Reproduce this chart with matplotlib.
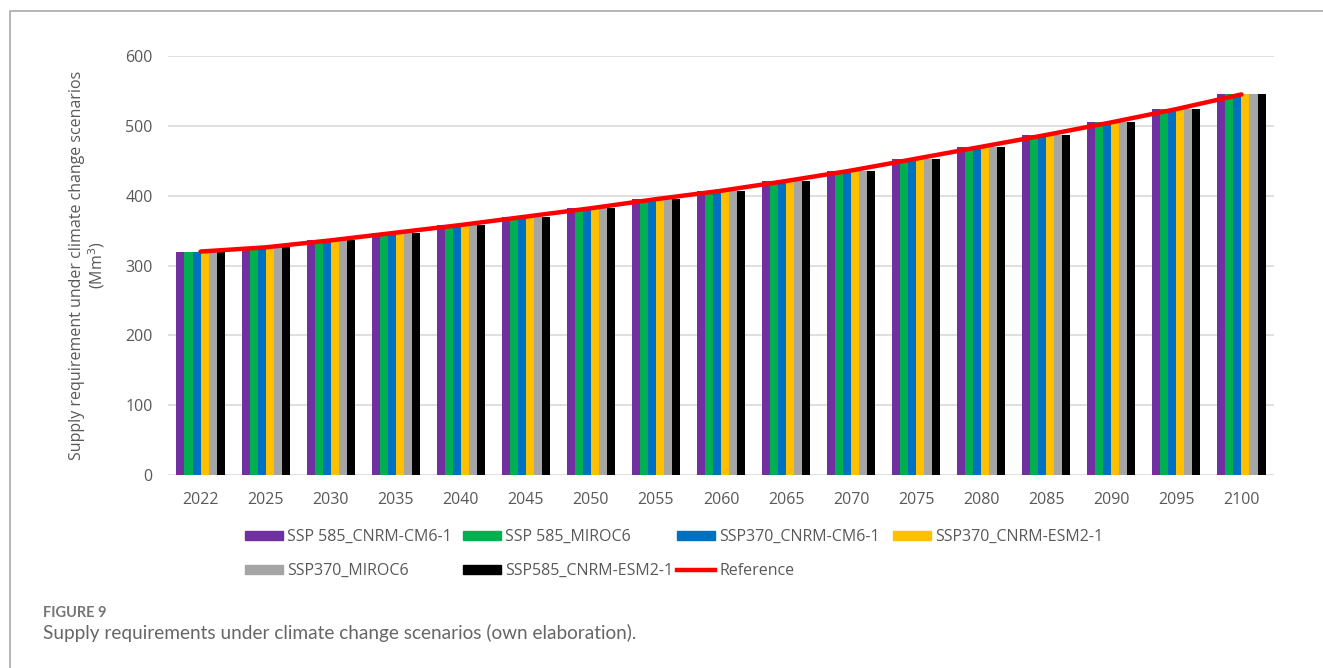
import numpy as np
import matplotlib.pyplot as plt
from matplotlib.lines import Line2D
from matplotlib.patches import Patch

# ------------------------------------------------------------------------------
years = ['2022', '2025', '2030', '2035', '2040', '2045', '2050', '2055', '2060',
         '2065', '2070', '2075', '2080', '2085', '2090', '2095', '2100']

ssp585_cnrm_cm6   = [320, 326, 336, 347, 358, 370, 382, 395, 407, 421, 436, 453, 470, 487, 505, 524, 545]
ssp585_miroc6     = [320, 326, 336, 347, 358, 370, 382, 395, 407, 421, 436, 453, 470, 487, 505, 524, 545]
ssp370_cnrm_cm6   = [320, 326, 336, 347, 358, 370, 382, 395, 407, 421, 436, 453, 470, 487, 505, 524, 545]
ssp370_cnrm_esm2  = [320, 326, 336, 347, 358, 370, 382, 395, 407, 421, 436, 453, 470, 487, 505, 524, 545]
ssp370_miroc6     = [320, 326, 336, 347, 358, 370, 382, 395, 407, 421, 436, 453, 470, 487, 505, 524, 545]
ssp585_cnrm_esm2  = [320, 326, 336, 347, 358, 370, 382, 395, 407, 421, 436, 453, 470, 487, 505, 524, 545]
reference         = [320, 326, 336, 347, 358, 370, 382, 395, 407, 421, 436, 453, 470, 487, 505, 524, 545]

series = [ssp585_cnrm_cm6, ssp585_miroc6, ssp370_cnrm_cm6,
          ssp370_cnrm_esm2, ssp370_miroc6, ssp585_cnrm_esm2]
names  = ['SSP 585_CNRM-CM6-1', 'SSP 585_MIROC6', 'SSP370_CNRM-CM6-1',
          'SSP370_CNRM-ESM2-1', 'SSP370_MIROC6', 'SSP585_CNRM-ESM2-1']
colors = ['#7030A0', '#00B050', '#0070C0', '#FFC000', '#A5A5A5', '#000000']
# ------------------------------------------------------------------------------
plt.rcParams['font.family'] = ['Open Sans', 'DejaVu Sans']
txt = '#595959'
W, H = 1323, 668

fig = plt.figure(figsize=(W / 100, H / 100), dpi=100)
ax = fig.add_axes([168 / W, 1 - 475 / H, 1106 / W, 419 / H])

x = np.arange(len(years))
w = 0.74 / 6
for i, (vals, c) in enumerate(zip(series, colors)):
    ax.bar(x + (i - 2.5) * w, vals, width=w, color=c, zorder=2)

ax.plot(x, reference, color='#FF0000', linewidth=3.2, solid_capstyle='round', zorder=3)

ax.set_xlim(-0.5, len(years) - 0.5)
ax.set_ylim(0, 600)
ax.set_yticks(range(0, 601, 100))
ax.set_xticks(x)
ax.set_xticklabels(years)
ax.tick_params(length=0, labelsize=11.5, colors=txt, pad=12)
ax.tick_params(axis='y', pad=11)
ax.grid(axis='y', color='#D9D9D9', linewidth=1.2, zorder=0)
for s in ax.spines.values():
    s.set_visible(False)
ax.set_ylabel('Supply requirement under climate change scenarios\n(Mm$^3$)',
              fontsize=11.5, color=txt, labelpad=13, linespacing=1.1)

# legend entries sit on a fixed grid: 4 columns, 2 rows
handles = [Patch(color=c) for c in colors] + [Line2D([], [], color='#FF0000', linewidth=3.2)]
labels = names + ['Reference']
col_x = [245, 463, 677, 893]
row_y = [537, 571]
for k, (h, lab) in enumerate(zip(handles, labels)):
    cx, ry = col_x[k % 4], row_y[k // 4]
    fig.legend([h], [lab], frameon=False, fontsize=11.5, handlelength=2.4,
               handleheight=0.55, handletextpad=0.25, borderpad=0, borderaxespad=0,
               labelcolor=txt, loc='center left', bbox_to_anchor=(cx / W, 1 - ry / H))

# caption
fig.text(43 / W, 1 - 613 / H, 'FIGURE 9', fontsize=10.5, color='#777777',
         family=['Lato', 'DejaVu Sans'], weight='bold', va='center')
fig.text(43 / W, 1 - 633 / H,
         'Supply requirements under climate change scenarios (own elaboration).',
         fontsize=13.7, color='#666666', family=['Lato', 'DejaVu Sans'], va='center')

# outer frame (top and left edges)
fig.add_artist(Line2D([9.5 / W, 9.5 / W, 1], [0, 1 - 11 / H, 1 - 11 / H],
                      color='#B0B0B0', linewidth=1.3, transform=fig.transFigure))

fig.savefig('out.png', dpi=100)
